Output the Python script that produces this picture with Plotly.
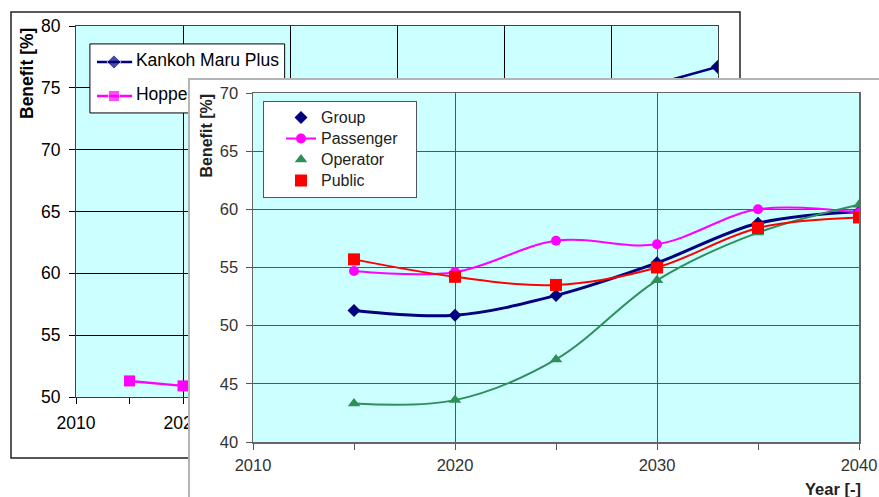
import plotly.graph_objects as go

# ---------------- data ----------------
# Front chart (Group / Passenger / Operator / Public)
years = [2015, 2020, 2025, 2030, 2035, 2040]
group = [51.3, 50.9, 52.6, 55.4, 58.8, 59.8]
passenger = [54.7, 54.6, 57.3, 57.0, 60.0, 59.7]
operator = [43.3, 43.6, 47.1, 53.9, 58.0, 60.4]
public = [55.7, 54.2, 53.5, 55.0, 58.4, 59.3]

# Back chart (only the visible parts)
kankoh_years = [2060, 2070]
kankoh = [74.3, 76.7]
hopper_years = [2015, 2020]
hopper = [51.3, 50.9]

back_names = ["Kankoh Maru Plus", "Hopper"]
front_names = ["Group", "Passenger", "Operator", "Public"]

# ---------------- layout helpers ----------------
W, H = 879, 497
def px(x):
    return x / W
def py(y):
    return 1 - y / H

FONT = "Liberation Sans, Arial, sans-serif"
CYAN = "#ccffff"
NAVY = "#000080"
MAGENTA = "#ff00ff"
GREEN = "#2f8f5a"
RED = "#ff0000"

fig = go.Figure()

# ---------- back chart (x / y) ----------
fig.add_trace(go.Scatter(x=kankoh_years, y=kankoh, mode="lines+markers", name=back_names[0],
                         line=dict(color=NAVY, width=2.5),
                         marker=dict(symbol="diamond", size=11, color=NAVY),
                         xaxis="x", yaxis="y", showlegend=False, hoverinfo="skip"))
fig.add_trace(go.Scatter(x=hopper_years, y=hopper, mode="lines+markers", name=back_names[1],
                         line=dict(color=MAGENTA, width=2.5),
                         marker=dict(symbol="square", size=11, color=MAGENTA),
                         xaxis="x", yaxis="y", showlegend=False, hoverinfo="skip"))

# back legend glyphs (legend drawn inside the back plot so the front chart covers it)
BL_X0, BL_XM, BL_X1, BL_XT = 2011.96, 2013.55, 2015.25, 2015.6
BL_Y = [77.09, 74.34]
fig.add_trace(go.Scatter(x=[BL_X0, BL_XM, BL_X1], y=[BL_Y[0]] * 3, mode="lines+markers",
                         line=dict(color=NAVY, width=2.5),
                         marker=dict(symbol="diamond", size=[0, 11, 0], color=NAVY),
                         xaxis="x", yaxis="y", showlegend=False, hoverinfo="skip"))
fig.add_trace(go.Scatter(x=[BL_X0, BL_XM, BL_X1], y=[BL_Y[1]] * 3, mode="lines+markers",
                         line=dict(color=MAGENTA, width=2.5),
                         marker=dict(symbol="square", size=[0, 11, 0], color=MAGENTA),
                         xaxis="x", yaxis="y", showlegend=False, hoverinfo="skip"))
fig.add_trace(go.Scatter(x=[BL_XT, BL_XT], y=BL_Y, mode="text", text=back_names,
                         textposition="middle right",
                         textfont=dict(family=FONT, size=17.5, color="black"),
                         xaxis="x", yaxis="y", showlegend=False, hoverinfo="skip"))

# ---------- filler subplot (front chart's white box) ----------
fig.add_trace(go.Scatter(x=[None], y=[None], xaxis="x2", yaxis="y2",
                         showlegend=False, hoverinfo="skip"))

# ---------- front chart (x3 / y3) ----------
series = [
    (group, NAVY, 3, "diamond", 10),
    (passenger, MAGENTA, 2, "circle", 10),
    (operator, GREEN, 2, "triangle-up", 11),
    (public, RED, 2, "square", 12),
]
for name, (vals, col, lw, sym, ms) in zip(front_names, series):
    fig.add_trace(go.Scatter(x=years, y=vals, mode="lines+markers", name=name,
                             line=dict(color=col, width=lw, shape="spline", smoothing=1.0),
                             marker=dict(symbol=sym, size=ms, color=col),
                             xaxis="x3", yaxis="y3", showlegend=False, hoverinfo="skip"))
# legend entries (Group, Operator, Public show markers only; Passenger line + marker)
leg_modes = ["markers", "lines+markers", "markers", "markers"]
leg_pad = ["", "\u00a0\u00a0\u00a0", "", ""]
for name, (vals, col, lw, sym, ms), md, pad in zip(front_names, series, leg_modes, leg_pad):
    fig.add_trace(go.Scatter(x=[None], y=[None], mode=md,
                             name='<span style="font-size:16px">' + name + pad + "</span>",
                             line=dict(color=col, width=2),
                             marker=dict(symbol=sym, size=ms, color=col),
                             xaxis="x3", yaxis="y3", showlegend=True))

axis_common = dict(zeroline=False, fixedrange=True, automargin=False)

fig.update_layout(
    template="none",
    width=W, height=H,
    margin=dict(l=0, r=0, t=0, b=0, pad=0, autoexpand=False),
    paper_bgcolor="white",
    plot_bgcolor="white",
    font=dict(family=FONT, color="black"),
    # back chart axes
    xaxis=dict(domain=[px(76), px(718)], range=[2010, 2070], tick0=2010, dtick=10,
               showgrid=True, gridcolor="black", gridwidth=1,
               showline=True, linecolor="#404040", linewidth=1, mirror=True,
               ticks="outside", ticklen=6, tickcolor="black",
               minor=dict(dtick=5, ticks="outside", ticklen=6, tickcolor="black", showgrid=False),
               tickfont=dict(size=17.5, color="black"), ticklabelstandoff=4,
               anchor="y", **axis_common),
    yaxis=dict(domain=[py(397), py(26)], range=[50, 80], tick0=50, dtick=5,
               showgrid=True, gridcolor="black", gridwidth=1,
               showline=True, linecolor="#404040", linewidth=1, mirror=True,
               ticks="outside", ticklen=6, tickcolor="black",
               tickfont=dict(size=17.5, color="black"), ticklabelstandoff=5,
               anchor="x", **axis_common),
    # filler axes (white box of the front chart)
    xaxis2=dict(domain=[px(190), 1], range=[0, 1], side="top", anchor="y2",
                showline=True, linecolor="#b4b4b4", linewidth=2.5, mirror=False,
                showgrid=False, showticklabels=False, ticks="", **axis_common),
    yaxis2=dict(domain=[0, py(80)], range=[0, 1], side="left", anchor="x2",
                showline=True, linecolor="#b4b4b4", linewidth=2.5, mirror=False,
                showgrid=False, showticklabels=False, ticks="", **axis_common),
    # front chart axes
    xaxis3=dict(domain=[px(253), px(859)], range=[2010, 2040], tick0=2010, dtick=10,
                showgrid=True, gridcolor="#555555", gridwidth=1,
                showline=True, linecolor="#666666", linewidth=1.5, mirror=True,
                ticks="outside", ticklen=6, tickcolor="#555555",
                minor=dict(dtick=5, ticks="outside", ticklen=6, tickcolor="#555555", showgrid=False),
                tickfont=dict(size=16.5, color="#333333"), ticklabelstandoff=2,
                anchor="y3", **axis_common),
    yaxis3=dict(domain=[py(442), py(93)], range=[40, 70], tick0=40, dtick=5,
                showgrid=True, gridcolor="#555555", gridwidth=1,
                showline=True, linecolor="#666666", linewidth=1.5, mirror=True,
                ticks="outside", ticklen=6, tickcolor="#555555",
                tickfont=dict(size=16.5, color="#333333"), ticklabelstandoff=4,
                anchor="x3", **axis_common),
    legend=dict(x=px(263), y=py(101), xanchor="left", yanchor="top",
                bgcolor="white", bordercolor="#555555", borderwidth=1,
                font=dict(family=FONT, size=13.85, color="#222222"),
                indentation=17, itemsizing="trace", tracegroupgap=0),
    shapes=[
        # back chart outer frame
        dict(type="rect", xref="paper", yref="paper", x0=px(11), x1=px(740), y0=py(458), y1=py(12),
             line=dict(color="#222222", width=1.5), fillcolor="rgba(0,0,0,0)", layer="below"),
        # back plot area fill
        dict(type="rect", xref="x", yref="y", x0=2010, x1=2070, y0=50, y1=80,
             line=dict(width=0), fillcolor=CYAN, layer="below"),
        # back legend box
        dict(type="rect", xref="x", yref="y", x0=2011.3, x1=2029.5, y0=72.97, y1=78.55,
             line=dict(color="black", width=1), fillcolor="white", layer="between"),
        # front plot area fill
        dict(type="rect", xref="x3", yref="y3", x0=2010, x1=2040, y0=40, y1=70,
             line=dict(width=0), fillcolor=CYAN, layer="below"),
    ],
    annotations=[
        dict(text="<b>Benefit [%]</b>", xref="paper", yref="paper", x=px(27), y=py(74),
             textangle=-90, showarrow=False, font=dict(family=FONT, size=17.5, color="black"),
             xanchor="center", yanchor="middle"),
        dict(text="<b>Benefit [%]</b>", xref="paper", yref="paper", x=px(206), y=py(135.5),
             textangle=-90, showarrow=False, font=dict(family=FONT, size=16, color="#222222"),
             xanchor="center", yanchor="middle"),
        dict(text="<b>Year [-]</b>", xref="paper", yref="paper", x=px(833), y=py(489),
             showarrow=False, font=dict(family=FONT, size=16.5, color="#222222"),
             xanchor="center", yanchor="middle"),
    ],
)

fig.write_html("out.html", config={"displayModeBar": False, "staticPlot": True},
               post_script="document.body.style.margin='0';document.body.style.overflow='hidden';")
